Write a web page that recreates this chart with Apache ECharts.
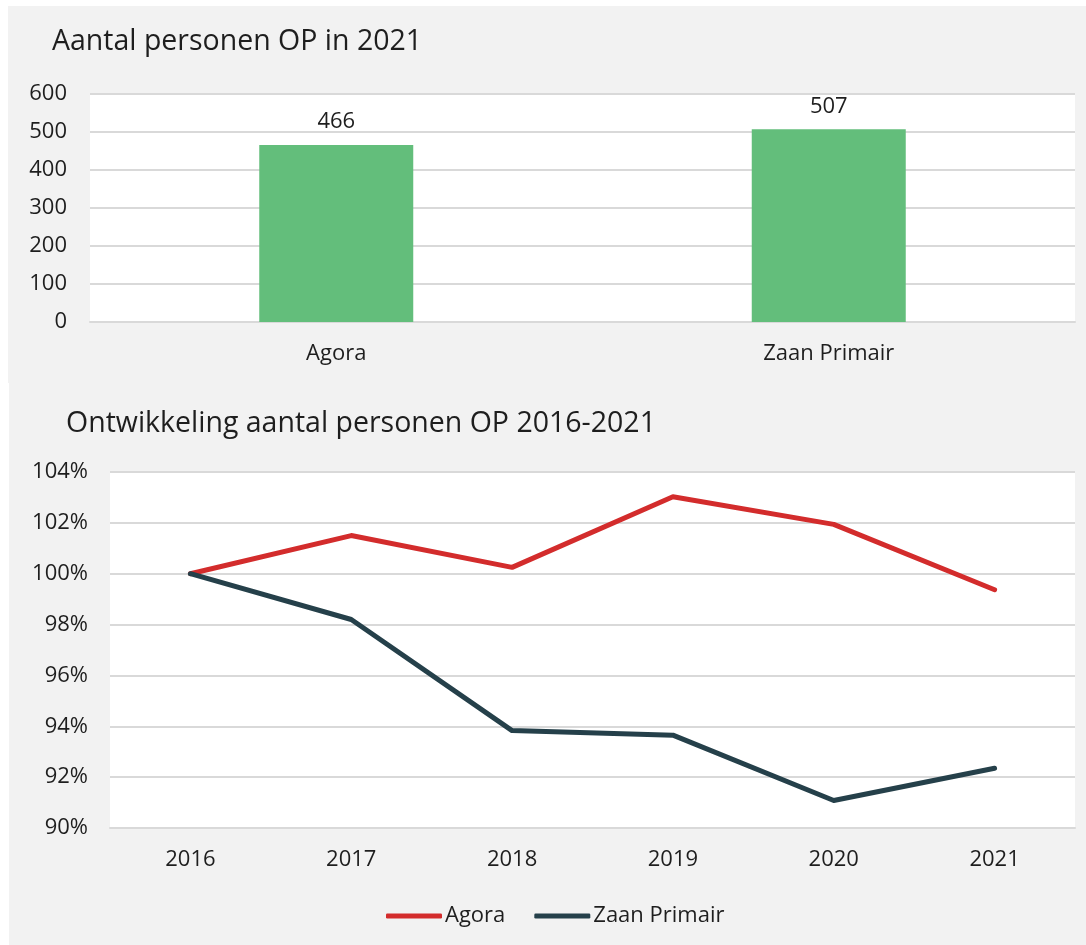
<!DOCTYPE html>
<html>
<head>
<meta charset="utf-8">
<script src="https://cdn.jsdelivr.net/npm/echarts@6/dist/echarts.min.js"></script>
<style>
  html, body { margin: 0; padding: 0; background: #fff; }
  #chart { width: 1086px; height: 945px; }
</style>
</head>
<body>
<div id="chart"></div>
<script>
// Data
const barCategories = ['Agora', 'Zaan Primair'];
const barValues = [466, 507];

const years = ['2016', '2017', '2018', '2019', '2020', '2021'];
const agoraTrend = [100, 101.5, 100.25, 103.03, 101.94, 99.37];
const zaanTrend = [100, 98.2, 93.83, 93.65, 91.08, 92.35];

const font = 'Open Sans';
const textColor = '#1e1e1e';
const gridColor = '#d9d9d9';
const labelSize = 22;

const chart = echarts.init(document.getElementById('chart'));
chart.setOption({
    backgroundColor: '#fff',
    animation: false,
    textStyle: {fontFamily: font, color: textColor},
    graphic: [
        {type: 'rect', left: 8, top: 6, z: -10, shape: {width: 1078, height: 377}, style: {fill: '#f2f2f2'}},
        {type: 'rect', left: 9, top: 383, z: -10, shape: {width: 1077, height: 562}, style: {fill: '#f2f2f2'}}
    ],
    title: [
        {text: 'Aantal personen OP in 2021', left: 47, top: 22,
         textStyle: {fontFamily: font, fontSize: 28.5, fontWeight: 'normal', color: textColor}},
        {text: 'Ontwikkeling aantal personen OP 2016-2021', left: 61, top: 404,
         textStyle: {fontFamily: font, fontSize: 28.5, fontWeight: 'normal', color: textColor}}
    ],
    legend: {
        left: 381,
        top: 900,
        icon: 'roundRect',
        itemWidth: 56,
        itemHeight: 5,
        itemGap: 29,
        textStyle: {fontFamily: font, fontSize: labelSize, color: textColor, padding: [0, 0, 0, -2]},
        data: ['Agora', 'Zaan Primair']
    },
    grid: [
        {left: 90, right: 11, top: 94, height: 228, show: true, backgroundColor: '#fff', borderWidth: 0},
        {left: 110, right: 11, top: 472, height: 356, show: true, backgroundColor: '#fff', borderWidth: 0}
    ],
    xAxis: [
        {
            type: 'category', gridIndex: 0, data: barCategories,
            axisLine: {lineStyle: {color: gridColor, width: 2}},
            axisTick: {show: false},
            axisLabel: {fontFamily: font, fontSize: labelSize, color: textColor, margin: 21}
        },
        {
            type: 'category', gridIndex: 1, data: years,
            axisLine: {lineStyle: {color: gridColor, width: 2}},
            axisTick: {show: false},
            axisLabel: {fontFamily: font, fontSize: labelSize, color: textColor, margin: 21}
        }
    ],
    yAxis: [
        {
            type: 'value', gridIndex: 0, min: 0, max: 600, interval: 100,
            axisLine: {show: false},
            axisTick: {show: false},
            splitLine: {lineStyle: {color: gridColor, width: 2}},
            axisLabel: {fontFamily: font, fontSize: labelSize, color: textColor, margin: 23, padding: [4, 0, 0, 0]}
        },
        {
            type: 'value', gridIndex: 1, min: 90, max: 104, interval: 2,
            axisLine: {show: false},
            axisTick: {show: false},
            splitLine: {lineStyle: {color: gridColor, width: 2}},
            axisLabel: {fontFamily: font, fontSize: labelSize, color: textColor, margin: 22, padding: [4, 0, 0, 0], formatter: '{value}%'}
        }
    ],
    series: [
        {
            type: 'bar', xAxisIndex: 0, yAxisIndex: 0,
            data: barValues,
            barWidth: 154,
            itemStyle: {color: '#63be7b'},
            label: {show: true, position: 'top', distance: 12, fontFamily: font, fontSize: labelSize, color: textColor}
        },
        {
            name: 'Agora', type: 'line', xAxisIndex: 1, yAxisIndex: 1,
            data: agoraTrend,
            symbol: 'none',
            lineStyle: {color: '#d32c2c', width: 5, cap: 'round', join: 'round'},
            itemStyle: {color: '#d32c2c'}
        },
        {
            name: 'Zaan Primair', type: 'line', xAxisIndex: 1, yAxisIndex: 1,
            data: zaanTrend,
            symbol: 'none',
            lineStyle: {color: '#25404a', width: 5, cap: 'round', join: 'round'},
            itemStyle: {color: '#25404a'}
        }
    ]
});
</script>
</body>
</html>
